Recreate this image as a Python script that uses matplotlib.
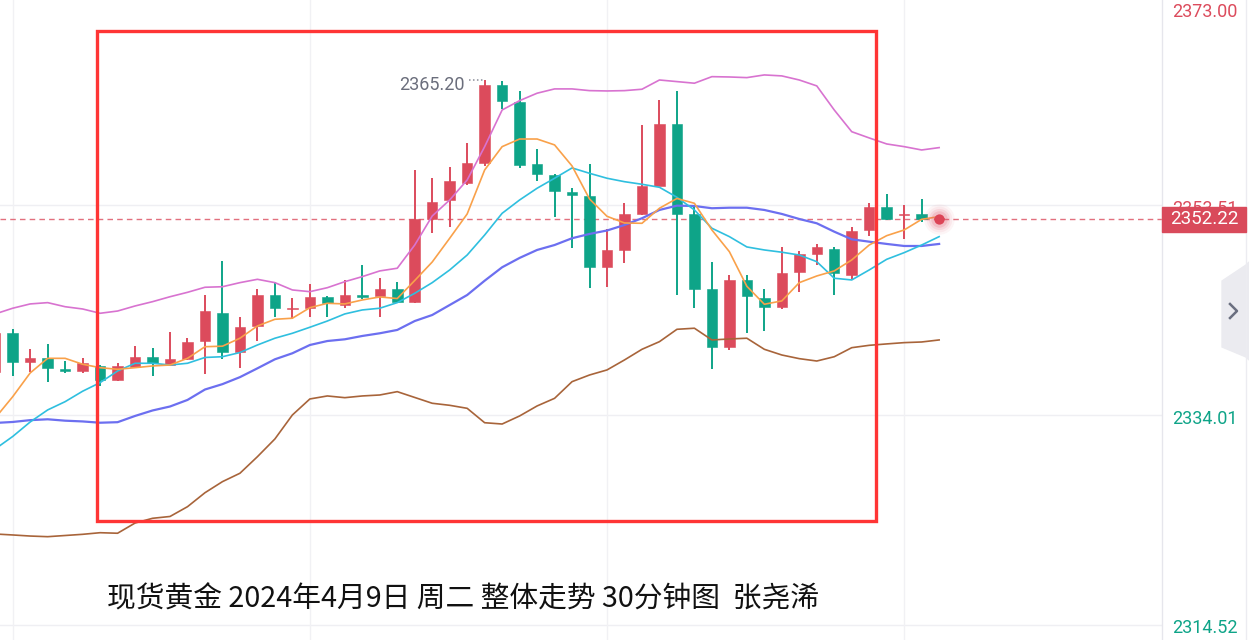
import matplotlib
matplotlib.use("Agg")
import matplotlib.pyplot as plt
from matplotlib.patches import Rectangle, Polygon
from matplotlib.lines import Line2D

# ---------------- data (30-minute candles, index -1 .. 53) ----------------
idx = list(range(-1, 54))
opens = [2338.01, 2341.67, 2338.91, 2339.28, 2338.32, 2338.10, 2338.60, 2337.27, 2338.50, 2339.43,
         2338.66, 2339.19, 2340.89, 2343.50, 2339.90, 2342.29, 2345.17, 2343.87, 2343.99, 2345.01,
         2344.24, 2345.17, 2345.08, 2345.70, 2344.49, 2352.24, 2354.01, 2355.56, 2357.48, 2364.71,
         2363.15, 2357.33, 2356.34, 2354.78, 2354.38, 2347.73, 2349.36, 2352.71, 2355.34, 2361.08,
         2352.71, 2345.73, 2340.31, 2346.57, 2344.92, 2344.08, 2347.34, 2348.99, 2349.48, 2347.03,
         2351.22, 2353.39, 2352.62, 2352.71, 2352.21]
highs = [2341.92, 2342.01, 2340.15, 2340.62, 2339.06, 2339.31, 2338.65, 2338.88, 2340.43, 2340.27,
         2341.70, 2341.15, 2345.17, 2348.36, 2343.10, 2345.70, 2346.41, 2344.87, 2346.17, 2345.05,
         2346.57, 2347.96, 2346.73, 2346.41, 2356.80, 2356.03, 2357.05, 2359.28, 2365.20, 2365.11,
         2364.15, 2358.73, 2356.40, 2355.10, 2357.33, 2351.31, 2353.70, 2360.99, 2363.31, 2364.15,
         2353.39, 2348.22, 2347.03, 2347.03, 2345.73, 2349.61, 2349.27, 2349.92, 2349.61, 2351.47,
         2353.70, 2354.54, 2353.55, 2354.08, 2352.30]
lows = [2337.73, 2337.64, 2338.04, 2337.11, 2337.95, 2337.95, 2336.71, 2337.20, 2338.41, 2337.64,
        2338.57, 2339.15, 2337.80, 2339.19, 2338.35, 2340.89, 2343.10, 2342.91, 2343.10, 2343.10,
        2343.94, 2344.77, 2343.10, 2344.40, 2344.40, 2350.91, 2351.53, 2355.41, 2357.17, 2362.45,
        2356.96, 2355.81, 2352.46, 2349.52, 2345.80, 2345.92, 2348.15, 2352.65, 2355.30, 2345.17,
        2343.94, 2338.26, 2340.06, 2341.61, 2341.85, 2343.84, 2345.48, 2347.96, 2345.17, 2346.63,
        2350.66, 2352.18, 2350.35, 2351.99, 2352.15]
closes = [2341.64, 2338.97, 2339.34, 2338.41, 2338.10, 2338.88, 2337.27, 2338.60, 2339.43, 2338.82,
          2339.19, 2340.83, 2343.66, 2339.90, 2342.22, 2345.17, 2343.94, 2343.94, 2345.01, 2344.40,
          2345.17, 2345.01, 2345.70, 2344.55, 2352.24, 2353.80, 2355.78, 2357.42, 2364.71, 2363.25,
          2357.27, 2356.43, 2354.88, 2354.43, 2347.73, 2349.36, 2352.71, 2355.34, 2361.08, 2352.71,
          2345.73, 2340.31, 2346.57, 2345.08, 2344.08, 2347.25, 2348.96, 2349.61, 2347.19, 2351.15,
          2353.39, 2352.21, 2352.71, 2352.21, 2352.22]

ma5 = [2333.73, 2335.71, 2337.92, 2339.28, 2339.28, 2338.73, 2338.41, 2338.26, 2338.41, 2338.57,
       2338.66, 2339.28, 2340.36, 2340.41, 2341.15, 2342.29, 2342.91, 2343.01, 2343.99, 2344.40,
       2344.34, 2344.71, 2344.99, 2344.84, 2346.52, 2348.24, 2350.45, 2352.71, 2356.80, 2358.97,
       2359.68, 2359.68, 2359.13, 2357.17, 2354.10, 2352.49, 2351.87, 2351.84, 2353.24, 2354.15,
       2353.70, 2351.22, 2349.20, 2345.98, 2344.31, 2344.62, 2346.32, 2346.94, 2347.41, 2348.43,
       2349.82, 2350.69, 2351.22, 2352.21, 2352.46]
ma10 = [2330.85, 2332.01, 2333.36, 2334.48, 2335.25, 2336.22, 2337.02, 2338.10, 2338.82, 2338.82,
        2338.66, 2338.82, 2339.36, 2339.43, 2339.82, 2340.52, 2341.15, 2341.61, 2342.17, 2342.75,
        2343.41, 2343.78, 2343.94, 2344.46, 2345.33, 2346.32, 2347.50, 2348.89, 2350.75, 2352.77,
        2354.01, 2355.10, 2356.03, 2356.99, 2356.49, 2356.03, 2355.71, 2355.47, 2355.19, 2354.26,
        2353.08, 2351.38, 2350.60, 2349.64, 2349.36, 2349.15, 2348.89, 2348.27, 2346.73, 2346.57,
        2347.50, 2348.49, 2349.11, 2349.82, 2350.60]
boll_mid = [2333.27, 2333.36, 2333.53, 2333.61, 2333.48, 2333.41, 2333.29, 2333.34, 2333.92, 2334.43,
            2334.80, 2335.41, 2336.38, 2336.88, 2337.53, 2338.35, 2339.19, 2339.75, 2340.52, 2340.89,
            2341.05, 2341.36, 2341.61, 2341.92, 2342.75, 2343.31, 2344.24, 2345.17, 2346.50, 2347.75,
            2348.62, 2349.36, 2349.82, 2350.45, 2350.85, 2351.17, 2351.68, 2352.31, 2353.08, 2353.48,
            2353.45, 2353.24, 2353.29, 2353.29, 2353.08, 2352.71, 2352.24, 2351.84, 2351.06, 2350.35,
            2350.13, 2349.92, 2349.73, 2349.73, 2349.92]
boll_up = [2343.41, 2343.94, 2344.34, 2344.46, 2344.08, 2343.87, 2343.47, 2343.68, 2344.15, 2344.55,
           2345.01, 2345.42, 2345.89, 2345.94, 2346.32, 2346.63, 2346.32, 2345.64, 2345.48, 2345.85,
           2346.41, 2346.88, 2347.41, 2347.66, 2349.82, 2352.52, 2354.01, 2355.87, 2358.97, 2362.38,
           2363.25, 2363.94, 2364.34, 2364.34, 2364.18, 2364.15, 2364.18, 2364.31, 2365.17, 2365.02,
           2364.87, 2365.48, 2365.45, 2365.39, 2365.64, 2365.55, 2365.17, 2364.62, 2362.38, 2360.36,
           2359.78, 2359.22, 2358.97, 2358.66, 2358.88]
boll_low = [2322.94, 2322.85, 2322.75, 2322.69, 2322.80, 2322.91, 2323.06, 2323.01, 2323.96, 2324.40,
            2324.57, 2325.48, 2326.78, 2327.81, 2328.59, 2330.13, 2331.78, 2334.01, 2335.50, 2335.78,
            2335.62, 2335.78, 2335.87, 2336.18, 2335.64, 2335.10, 2334.91, 2334.63, 2333.29, 2333.17,
            2333.92, 2334.85, 2335.56, 2337.11, 2337.73, 2338.20, 2339.13, 2340.12, 2340.83, 2341.98,
            2342.08, 2340.99, 2341.08, 2341.15, 2340.12, 2339.59, 2339.25, 2339.03, 2339.43, 2340.27,
            2340.49, 2340.62, 2340.74, 2340.80, 2340.99]

last_price = 2352.22
peak_index = 27
peak_label = "2365.20"
axis_ticks = [2373.00, 2353.51, 2334.01, 2314.52]
axis_tick_labels = ["2373.00", "2353.51", "2334.01", "2314.52"]
title_text = "现货黄金 2024年4月9日 周二 整体走势 30分钟图  张尧浠"
grid_candles = [0, 17, 34, 51]
box_x = (4.82, 49.39)          # highlighted region (candle index)
box_y = (2324.15, 2369.73)     # highlighted region (price)

# ---------------- styling ----------------
UP = '#dc4b5c'
DOWN = '#0ea488'
W, H = 1249, 640
AX_RIGHT = 1162

fig = plt.figure(figsize=(W / 100, H / 100), dpi=100)
fig.patch.set_facecolor('white')
ax = fig.add_axes([0, 0, AX_RIGHT / W, 1])
ax.set_xlim(-0.7265, 65.75)
ax.set_ylim(2313.08, 2372.61)
ax.set_axis_off()

# grid
for v in axis_ticks:
    ax.axhline(v, color='#efeff3', lw=1.0, zorder=0)
for c in grid_candles:
    ax.axvline(c, color='#f1f1f4', lw=1.0, zorder=0)

# candles
for i, o, h, l, c in zip(idx, opens, highs, lows, closes):
    col = UP if c >= o else DOWN
    ax.vlines(i, l, h, color=col, lw=1.4, zorder=2)
    bottom = min(o, c)
    height = max(abs(c - o), 0.08)
    ax.bar(i, height, bottom=bottom, width=0.6, color=col, edgecolor=col,
           linewidth=0.4, zorder=3)

# indicator lines
ax.plot(idx, boll_up, color='#d873d0', lw=1.2, zorder=4)
ax.plot(idx, boll_low, color='#a8643a', lw=1.2, zorder=4)
ax.plot(idx, boll_mid, color='#6c6ff0', lw=1.6, zorder=4)
ax.plot(idx, ma10, color='#2fbfdf', lw=1.2, zorder=4)
ax.plot(idx, ma5, color='#f9a14a', lw=1.2, zorder=5)

# last price dashed line
ax.axhline(last_price, color='#e2707e', lw=1.0, ls=(0, (4, 3)), zorder=1)

# current price dot with glow
for s, a in [(480, 0.06), (340, 0.08), (230, 0.12), (140, 0.18)]:
    ax.scatter([idx[-1]], [last_price], s=s, color='#e0566a', alpha=a, lw=0, zorder=6)
ax.scatter([idx[-1]], [last_price], s=55, color='#dc4557', lw=0, zorder=7)

# peak label
ax.text(peak_index - 1.12, highs[idx.index(peak_index)] - 0.45, peak_label,
        ha='right', va='center', fontsize=13, color='#6b6e7c', family='Roboto', zorder=6)
ax.plot([peak_index - 0.9, peak_index - 0.1], [highs[idx.index(peak_index)]] * 2,
        color='#8a8d99', lw=1.1, ls=(0, (1, 1.6)), zorder=6)

# highlight box
ax.add_patch(Rectangle((box_x[0], box_y[0]), box_x[1] - box_x[0], box_y[1] - box_y[0],
                       fill=False, ec='#ff3535', lw=2.4, zorder=8))

# ---------------- right price axis ----------------
def fig_y(p):
    return ax.transData.transform((0, p))[1] / H

fig.add_artist(Line2D([AX_RIGHT / W, AX_RIGHT / W], [0, 1], color='#e6e6ec', lw=1.0,
                      transform=fig.transFigure))
fig.add_artist(Line2D([1246 / W, 1246 / W], [0, 1], color='#ececf1', lw=1.0,
                      transform=fig.transFigure))

for v, lab in zip(axis_ticks, axis_tick_labels):
    yy = fig_y(v) - 4 / H
    yy = min(max(yy, 12 / H), 1 - 12 / H)
    col = UP if v > last_price else DOWN
    fig.text(1172 / W, yy, lab, ha='left', va='center', fontsize=13, color=col,
             family='Roboto', zorder=1)

# last price badge (covers the neighbouring tick label, as in the app)
yb = fig_y(last_price)
fig.add_artist(Rectangle((AX_RIGHT / W, yb - 12.5 / H), 84 / W, 25 / H, color='#d94a5b',
                         transform=fig.transFigure, zorder=5))
fig.text(1204 / W, yb, f"{last_price:.2f}", ha='center', va='center', fontsize=13.5,
         color='white', family='Roboto', zorder=6)

# collapse tab with chevron
tab = Polygon([(1249 / W, 1 - 262 / H), (1246 / W, 1 - 265 / H), (1222 / W, 1 - 281 / H),
               (1222 / W, 1 - 347 / H), (1246 / W, 1 - 357 / H), (1249 / W, 1 - 360 / H)],
              closed=True, color='#ebebf0', transform=fig.transFigure)
fig.add_artist(tab)
fig.add_artist(Line2D([1230 / W, 1237 / W, 1230 / W], [1 - 304 / H, 1 - 311 / H, 1 - 318 / H],
                      color='#6b6f80', lw=1.8, transform=fig.transFigure))

# title
fig.text(107 / W, 1 - 600 / H, title_text, ha='left', va='center', fontsize=20.7,
         color='#111111', family=['Noto Sans CJK SC', 'DejaVu Sans'])

fig.savefig('out.png', dpi=100, facecolor='white')
